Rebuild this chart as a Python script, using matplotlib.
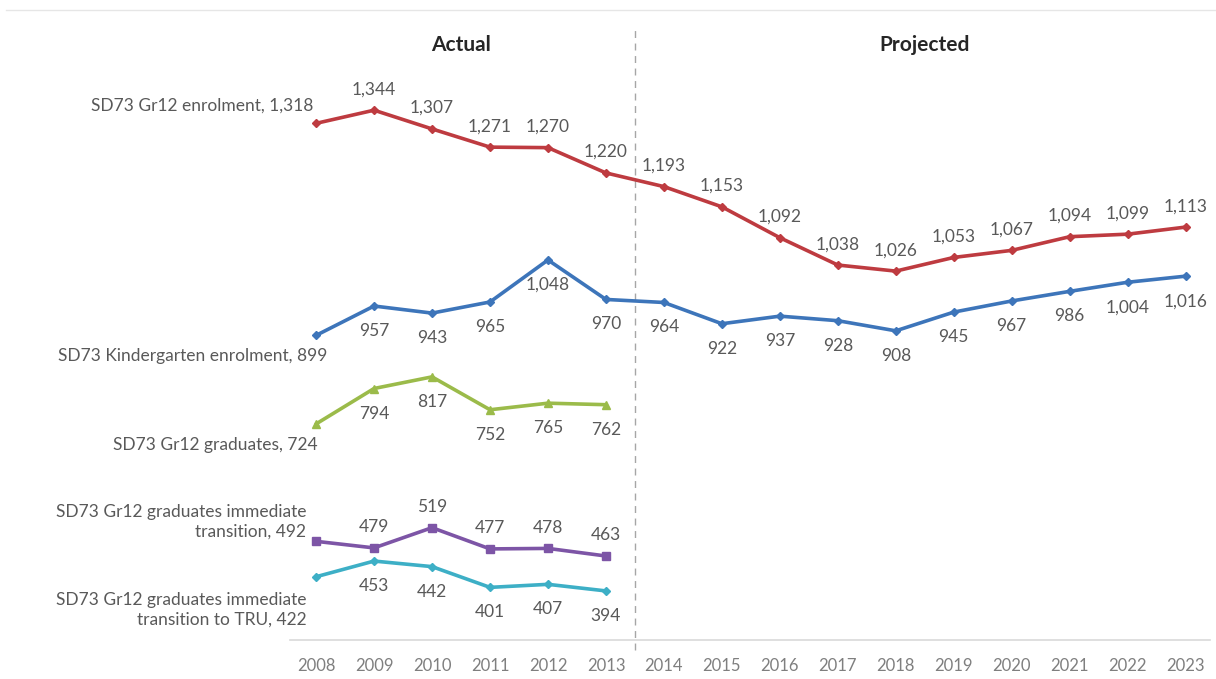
import matplotlib.pyplot as plt
from matplotlib.lines import Line2D

plt.rcParams['font.family'] = ['Lato', 'DejaVu Sans']

# Data
years = list(range(2008, 2024))
actual_years = years[:6]

gr12_enrol = [1318, 1344, 1307, 1271, 1270, 1220, 1193, 1153, 1092, 1038,
              1026, 1053, 1067, 1094, 1099, 1113]
kinder_enrol = [899, 957, 943, 965, 1048, 970, 964, 922, 937, 928,
                908, 945, 967, 986, 1004, 1016]
gr12_grads = [724, 794, 817, 752, 765, 762]
grads_transition = [492, 479, 519, 477, 478, 463]
grads_tru = [422, 453, 442, 401, 407, 394]

series_names = [
    "SD73 Gr12 enrolment",
    "SD73 Kindergarten enrolment",
    "SD73 Gr12 graduates",
    "SD73 Gr12 graduates immediate\ntransition",
    "SD73 Gr12 graduates immediate\ntransition to TRU",
]

label_color = '#595959'

fig = plt.figure(figsize=(12.16, 6.79), dpi=100)
ax = fig.add_axes([290 / 1216, 1 - 640 / 679, 920 / 1216, 630 / 679])

# (x, y, colour, marker, marker size, label side, side-label offset)
series = [
    (years, gr12_enrol, '#BE3B40', 'D', 4, 'above', (-2, 13)),
    (years, kinder_enrol, '#3D75BA', 'D', 4, 'below', (8, -15)),
    (actual_years, gr12_grads, '#9BBB4A', '^', 6, 'below', (1, -15)),
    (actual_years, grads_transition, '#7D55A6', 's', 6, 'above', (-7, 14)),
    (actual_years, grads_tru, '#3DAFC6', 'D', 4, 'below', (-7, -24)),
]

for name, (xs, ys, col, mk, ms, side, off) in zip(series_names, series):
    ax.plot(xs, ys, color=col, linewidth=2.6, marker=mk, markersize=ms,
            solid_capstyle='round', zorder=3)
    # first point gets a name label on the left
    ax.annotate(f"{name}, {ys[0]:,}", (xs[0], ys[0]), xytext=off,
                textcoords='offset points', ha='right', va='center', fontsize=12.5,
                color=label_color, multialignment='right', linespacing=1.3)
    dy = 15 if side == 'above' else -18
    for x, y in zip(xs[1:], ys[1:]):
        ax.annotate(f"{y:,}", (x, y), xytext=(0, dy), textcoords='offset points',
                    ha='center', va='center', fontsize=12.5, color=label_color)

ax.set_xlim(2007.55, 2023.42)
ax.set_ylim(297, 1542)
ax.set_xticks(years)
ax.set_xticklabels([str(y) for y in years], fontsize=12, color='#7F7F7F')
ax.tick_params(axis='x', length=0, pad=13)
ax.set_yticks([])
for s in ['top', 'left', 'right']:
    ax.spines[s].set_visible(False)
ax.spines['bottom'].set_color('#D9D9D9')
ax.spines['bottom'].set_linewidth(1.2)

# actual / projected divider
ax.axvline(2013.5, ymin=-0.016, ymax=0.976, color='#A6A6A6', linestyle=(0, (5, 4)),
           linewidth=1, clip_on=False, zorder=1)
trans = ax.get_xaxis_transform()
ax.text(2010.5, 0.944, "Actual", transform=trans, ha='center', va='center',
        fontsize=15, fontweight='bold', color='#262626')
ax.text(2018.5, 0.944, "Projected", transform=trans, ha='center', va='center',
        fontsize=15, fontweight='bold', color='#262626')

# thin frame line at the top of the chart area
fig.add_artist(Line2D([0.005, 1.0], [1 - 10 / 679] * 2, transform=fig.transFigure,
                      color='#E6E6E6', linewidth=1))

fig.savefig('out.png', dpi=100, facecolor='white')
